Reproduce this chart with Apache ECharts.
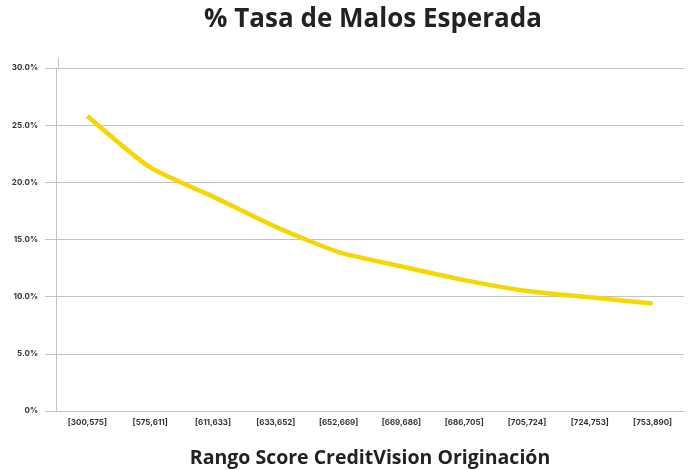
<!DOCTYPE html>
<html>
<head>
<meta charset="utf-8">
<script src="https://cdn.jsdelivr.net/npm/echarts@6/dist/echarts.min.js"></script>
<style>
html,body{margin:0;padding:0;background:#fff;}
#c{width:695px;height:470px;}
</style>
</head>
<body>
<div id="c"></div>
<script>
var categories = ['[300,575]','[575,611]','[611,633]','[633,652]','[652,669]','[669,686]','[686,705]','[705,724]','[724,753]','[753,890]'];
var tasaMalos = [25.8, 21.3, 18.75, 16.1, 13.9, 12.65, 11.45, 10.5, 9.95, 9.4];
var yTicks = [0, 5, 10, 15, 20, 25, 30];

var chart = echarts.init(document.getElementById('c'));
var gray = '#c4c4c4';
chart.setOption({
  animation: false,
  backgroundColor: '#fff',
  title: {
    text: '% Tasa de Malos Esperada',
    left: 368, top: 2, textAlign: 'center',
    textStyle: {fontFamily: 'Open Sans', fontWeight: 700, fontSize: 26, color: '#222'}
  },
  grid: {left: 56, right: 11, top: 68, bottom: 59, outerBoundsMode: 'none', containLabel: false},
  xAxis: {
    type: 'category',
    data: categories,
    boundaryGap: true,
    name: 'Rango Score CreditVision Originación',
    nameLocation: 'middle',
    nameGap: 37,
    nameTextStyle: {fontFamily: 'Open Sans', fontWeight: 700, fontSize: 19.5, color: '#222'},
    axisLine: {show: true, lineStyle: {color: gray, width: 1}},
    axisTick: {show: false},
    axisLabel: {fontFamily: 'Inter', fontWeight: 700, fontSize: 8, color: '#333', margin: 8, interval: 0}
  },
  yAxis: {
    type: 'value',
    min: yTicks[0], max: yTicks[yTicks.length-1], interval: 5,
    axisLine: {show: true, lineStyle: {color: gray, width: 1}},
    axisTick: {show: true, length: 11, lineStyle: {color: gray, width: 1}},
    splitLine: {show: true, lineStyle: {color: gray, width: 1}},
    axisLabel: {
      fontFamily: 'Inter', fontWeight: 700, fontSize: 8, color: '#333', margin: 18,
      formatter: function (v) { return v === 0 ? '0%' : v.toFixed(1) + '%'; }
    }
  },
  graphic: [{
    type: 'line', shape: {x1: 58.5, y1: 58, x2: 58.5, y2: 68},
    style: {stroke: gray, lineWidth: 1}, silent: true
  }],
  series: [{
    type: 'line',
    data: tasaMalos,
    smooth: 0.2,
    symbol: 'none',
    lineStyle: {color: '#F7D700', width: 4.5}
  }]
});
</script>
</body>
</html>
